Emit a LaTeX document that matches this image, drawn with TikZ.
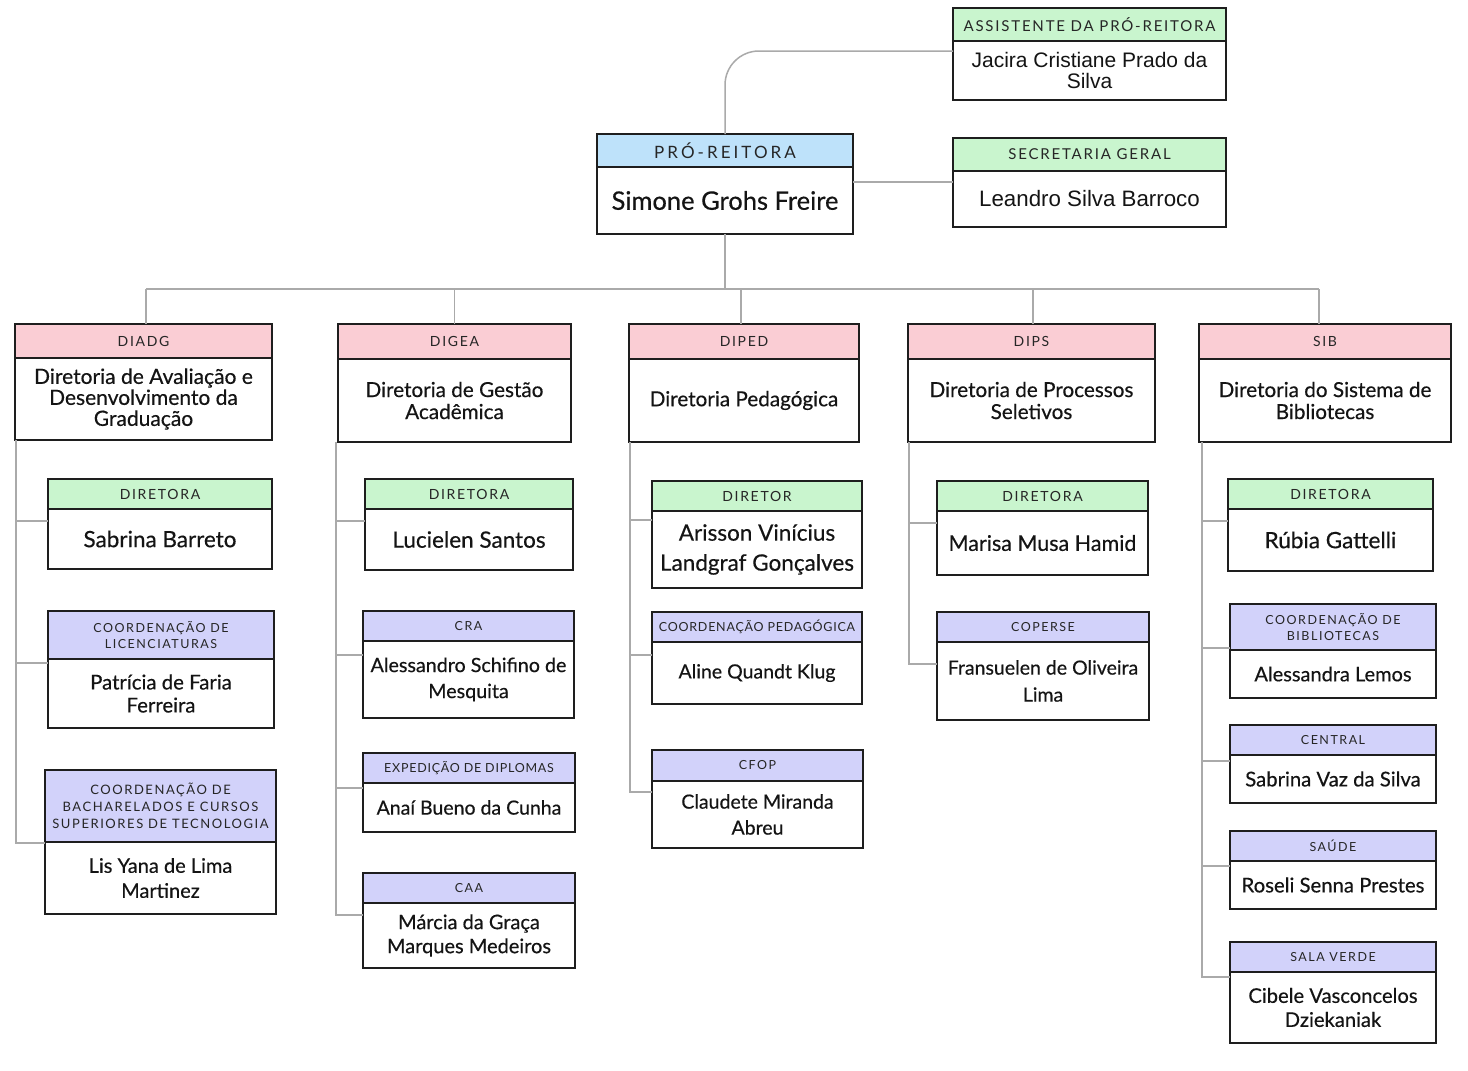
\documentclass[tikz,border=0pt]{standalone}
\usepackage{fontspec}
\setmainfont{Lato}[FakeBold=0.4]
\newfontfamily\hdrfont{Lato}[LetterSpace=12]
\newfontfamily\hdrtight{Lato}[LetterSpace=6]
\newfontfamily\hdrwide{Lato}[LetterSpace=18]
\newfontfamily\arialfont{Liberation Sans}
\definecolor{gr}{RGB}{201,245,206}
\definecolor{bl}{RGB}{190,226,250}
\definecolor{pk}{RGB}{250,205,212}
\definecolor{lv}{RGB}{210,210,250}
\definecolor{bd}{RGB}{30,30,30}
\definecolor{cn}{RGB}{170,170,170}
\newcommand\obfont{}
\newcommand\obhfont{}
\newcommand\bfnt[3][]{\def\obfont{#1\fontsize{#2}{#3}\selectfont}}
\newcommand\hfnt[3][\hdrfont]{\def\obhfont{#1\fontsize{#2}{#3}\selectfont}}
\tikzset{
  boxst/.style={fill=white, inner sep=0pt, outer sep=0pt},
  boxline/.style={draw=bd, line width=1.7pt},
  conn/.style={draw=cn, line width=1.5pt},
  hdr/.style={font=\obhfont, align=center, inner sep=0pt, text=black!85},
  bod/.style={font=\obfont, align=center, inner sep=0pt, text=black!92},
}
% name, x1, y1, x2, y2, header bottom, fill, header, body
\newcommand\ob[9]{%
  \pgfmathsetmacro\obW{#4-#2}\pgfmathsetmacro\obH{#5-#3}%
  \pgfmathsetmacro\obCX{(#2+#4)/2}\pgfmathsetmacro\obCY{(#3+#5)/2}%
  \pgfmathsetmacro\obHY{(#3+#6)/2}\pgfmathsetmacro\obBY{(#6+#5)/2}%
  \node[boxst, minimum width=\obW pt, minimum height=\obH pt] (#1) at (\obCX,\obCY) {};
  \fill[#7] (#2,#3) rectangle (#4,#6);
  \draw[boxline] (#2,#6) -- (#4,#6);
  \draw[boxline] (#1.north west) rectangle (#1.south east);
  \node[hdr] at (\obCX,\obHY) {#8};
  \node[bod] at (\obCX,\obBY) {#9};
  \bfnt{20}{23}\hfnt{12.5}{16.5}%
}
\begin{document}
\begin{tikzpicture}[x=1pt,y=-1pt]
\useasboundingbox[fill=white] (0,0) rectangle (1468,1071);
\bfnt{20}{23}\hfnt{12.5}{16.5}

\coordinate (bus) at (723,289);

% top level boxes
\hfnt{15}{16}\bfnt[\arialfont]{21}{21}
\ob{asst}{953}{8}{1226}{100}{41}{gr}{ASSISTENTE DA PRÓ-REITORA}{Jacira Cristiane Prado da\\Silva}
\hfnt[\hdrwide]{17}{20}\bfnt{25.5}{26}
\ob{pr}{597}{134}{853}{234}{167}{bl}{PRÓ-REITORA}{Simone Grohs Freire}
\hfnt{15}{16}\bfnt[\arialfont]{22.3}{23}
\ob{sec}{953}{138}{1226}{227}{171}{gr}{SECRETARIA GERAL}{Leandro Silva Barroco}

% directorates
\hfnt{14}{16}\bfnt{21}{21}
\ob{diadg}{15}{324}{272}{440}{358}{pk}{DIADG}{Diretoria de Avaliação e\\Desenvolvimento da\\Graduação}
\hfnt{14}{16}\bfnt{20.7}{22}
\ob{digea}{338}{324}{571}{442}{359}{pk}{DIGEA}{Diretoria de Gestão\\Acadêmica}
\hfnt{14}{16}\bfnt{20.7}{22}
\ob{diped}{629}{324}{859}{442}{359}{pk}{DIPED}{Diretoria Pedagógica}
\hfnt{14}{16}\bfnt{20.7}{22}
\ob{dips}{908}{324}{1155}{442}{359}{pk}{DIPS}{Diretoria de Processos\\Seletivos}
\hfnt{14}{16}\bfnt{20.7}{22}
\ob{sib}{1199}{324}{1451}{442}{359}{pk}{SIB}{Diretoria do Sistema de\\Bibliotecas}

% DIADG column
\hfnt{14}{16}\bfnt{22.5}{26}
\ob{a1}{48}{479}{272}{569}{509}{gr}{DIRETORA}{Sabrina Barreto}
\bfnt{20.4}{23}
\ob{a2}{48}{611}{274}{728}{659}{lv}{COORDENAÇÃO DE\\LICENCIATURAS}{Patrícia de Faria\\Ferreira}
\hfnt{13}{17}\bfnt{20}{25}
\ob{a3}{45}{770}{276}{914}{842}{lv}{COORDENAÇÃO DE\\BACHARELADOS E CURSOS\\SUPERIORES DE TECNOLOGIA}{Lis Yana de Lima\\Martinez}

% DIGEA column
\hfnt{14}{16}\bfnt{22.5}{26}
\ob{b1}{365}{479}{573}{570}{509}{gr}{DIRETORA}{Lucielen Santos}
\bfnt{19.7}{26}
\ob{b2}{363}{611}{574}{718}{641}{lv}{CRA}{Alessandro Schifino de\\Mesquita}
\hfnt[\hdrtight]{12.5}{16}\bfnt{19.5}{23}
\ob{b3}{363}{753}{575}{832}{783}{lv}{EXPEDIÇÃO DE DIPLOMAS}{Anaí Bueno da Cunha}
\bfnt{20}{24}
\ob{b4}{363}{873}{575}{968}{903}{lv}{CAA}{Márcia da Graça\\Marques Medeiros}

% DIPED column
\hfnt{14}{16}\bfnt{22.5}{30}
\ob{c1}{652}{481}{862}{588}{511}{gr}{DIRETOR}{Arisson Vinícius\\Landgraf Gonçalves}
\hfnt[\hdrtight]{12.5}{16}\bfnt{19.5}{23}
\ob{c2}{652}{612}{862}{704}{642}{lv}{COORDENAÇÃO PEDAGÓGICA}{Aline Quandt Klug}
\bfnt{19.5}{26}
\ob{c3}{652}{750}{863}{848}{781}{lv}{CFOP}{Claudete Miranda\\Abreu}

% DIPS column
\hfnt{14}{16}\bfnt{21.5}{24}
\ob{d1}{937}{481}{1148}{575}{511}{gr}{DIRETORA}{Marisa Musa Hamid}
\bfnt{19.5}{27}
\ob{d2}{937}{612}{1149}{720}{642}{lv}{COPERSE}{Fransuelen de Oliveira\\Lima}

% SIB column
\hfnt{14}{16}\bfnt{22.5}{26}
\ob{e1}{1228}{479}{1433}{571}{509}{gr}{DIRETORA}{Rúbia Gattelli}
\ob{e2}{1230}{604}{1436}{698}{650}{lv}{COORDENAÇÃO DE\\BIBLIOTECAS}{Alessandra Lemos}
\bfnt{20.3}{23}
\ob{e3}{1230}{725}{1436}{803}{755}{lv}{CENTRAL}{Sabrina Vaz da Silva}
\bfnt{20.3}{23}
\ob{e4}{1230}{831}{1436}{909}{861}{lv}{SAÚDE}{Roseli Senna Prestes}
\bfnt{20.2}{24}
\ob{e5}{1230}{942}{1436}{1043}{972}{lv}{SALA VERDE}{Cibele Vasconcelos\\Dziekaniak}

% ---- connectors ----
\draw[conn, rounded corners=34pt] (pr.north) |- (asst.west |- 0,51);
\draw[conn] (pr.east |- 0,182) -- (sec.west |- 0,182);
\draw[conn] (pr.south) -- (pr.south |- bus);
\draw[conn] ([xshift=2.5pt]diadg.north |- bus) -- ([xshift=-6pt]sib.north |- bus);
\draw[conn] ([xshift=2.5pt]diadg.north) -- ++(0,-35);
\draw[conn] (digea.north) -- ++(0,-35);
\draw[conn] ([xshift=-3pt]diped.north) -- ++(0,-35);
\draw[conn] ([xshift=1.5pt]dips.north) -- ++(0,-35);
\draw[conn] ([xshift=-6pt]sib.north) -- ++(0,-35);

% spines
\coordinate (sa) at ([xshift=1pt]diadg.south west);
\coordinate (sb) at ([xshift=-2pt]digea.south west);
\coordinate (sc) at ([xshift=1pt]diped.south west);
\coordinate (sd) at ([xshift=1pt]dips.south west);
\coordinate (se) at ([xshift=3pt]sib.south west);

\draw[conn] (sa) |- (a3.west |- 0,843);
\draw[conn] (sa |- 0,521) -- (a1.west |- 0,521);
\draw[conn] (sa |- 0,663) -- (a2.west |- 0,663);

\draw[conn] (sb) |- (b4.west |- 0,915);
\draw[conn] (sb |- 0,521) -- (b1.west |- 0,521);
\draw[conn] (sb |- 0,655) -- (b2.west |- 0,655);
\draw[conn] (sb |- 0,788) -- (b3.west |- 0,788);

\draw[conn] (sc) |- (c3.west |- 0,792);
\draw[conn] (sc |- 0,520) -- (c1.west |- 0,520);
\draw[conn] (sc |- 0,655) -- (c2.west |- 0,655);

\draw[conn] (sd) |- (d2.west |- 0,664);
\draw[conn] (sd |- 0,523) -- (d1.west |- 0,523);

\draw[conn] (se) |- (e5.west |- 0,977);
\draw[conn] (se |- 0,521) -- (e1.west |- 0,521);
\draw[conn] (se |- 0,648) -- (e2.west |- 0,648);
\draw[conn] (se |- 0,761) -- (e3.west |- 0,761);
\draw[conn] (se |- 0,866) -- (e4.west |- 0,866);
\end{tikzpicture}
\end{document}
